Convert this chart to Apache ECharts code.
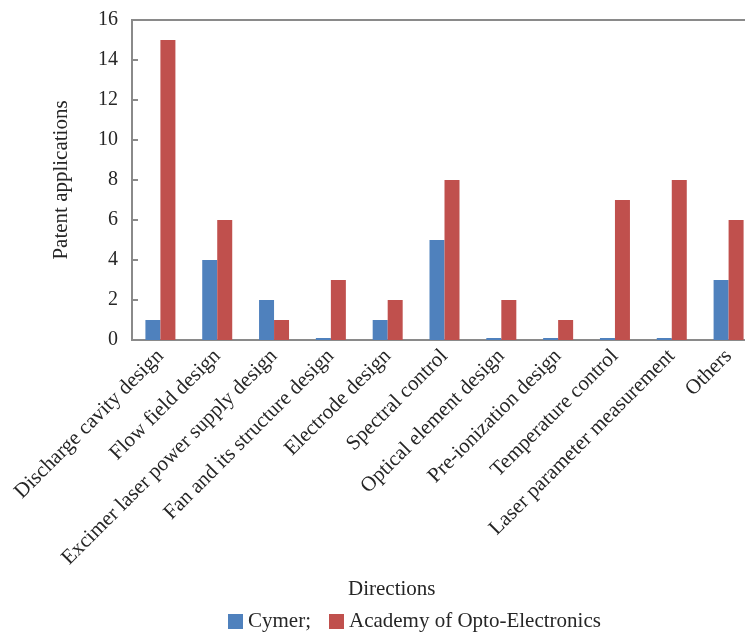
<!DOCTYPE html>
<html>
<head>
<meta charset="utf-8">
<script src="https://cdn.jsdelivr.net/npm/echarts@6/dist/echarts.min.js"></script>
<style>
  html, body { margin: 0; padding: 0; background: #ffffff; }
  #chart { width: 745px; height: 632px; }
</style>
</head>
<body>
<div id="chart"></div>
<script>
// Patent application counts by research direction
const categories = [
  'Discharge cavity design',
  'Flow field design',
  'Excimer laser power supply design',
  'Fan and its structure design',
  'Electrode design',
  'Spectral control',
  'Optical element design',
  'Pre-ionization design',
  'Temperature control',
  'Laser parameter measurement',
  'Others'
];
const cymer = [1, 4, 2, 0.1, 1, 5, 0.1, 0.1, 0.1, 0.1, 3];
const academy = [15, 6, 1, 3, 2, 8, 2, 1, 7, 8, 6];
const yTicks = { min: 0, max: 16, interval: 2 };

const serif = '"Liberation Serif", "DejaVu Serif", serif';
const textColor = '#262626';
const axisColor = '#8a8a8a';

const chart = echarts.init(document.getElementById('chart'), null, { renderer: 'canvas' });
chart.setOption({
  animation: false,
  backgroundColor: '#ffffff',
  color: ['#4F81BD', '#C0504D'],
  title: {
    text: 'Directions',
    left: 343, top: 574,
    textStyle: { fontFamily: serif, fontSize: 21, fontWeight: 'normal', color: textColor }
  },
  grid: {
    left: 132, width: 625, top: 20, height: 320,
    outerBoundsMode: 'none',
    show: true, borderColor: axisColor, borderWidth: 2, backgroundColor: 'transparent'
  },
  legend: {
    left: 223, top: 606,
    itemWidth: 15, itemHeight: 15, itemGap: 18,
    icon: 'rect',
    textStyle: { fontFamily: serif, fontSize: 21, color: textColor },
    data: [
      { name: 'Cymer;' },
      { name: 'Academy of Opto-Electronics' }
    ]
  },
  xAxis: {
    type: 'category',
    data: categories,
    axisLine: { lineStyle: { color: axisColor, width: 2 } },
    axisTick: { inside: true, length: 5, lineStyle: { color: axisColor, width: 2 } },
    axisLabel: {
      rotate: 45, interval: 0, margin: 13,
      fontFamily: serif, fontSize: 21, color: textColor
    }
  },
  yAxis: {
    type: 'value',
    min: yTicks.min, max: yTicks.max, interval: yTicks.interval,
    name: 'Patent applications',
    nameLocation: 'middle',
    nameGap: 60,
    nameTextStyle: { fontFamily: serif, fontSize: 21, color: textColor },
    axisLine: { show: true, lineStyle: { color: axisColor, width: 2 } },
    axisTick: { show: true, inside: true, length: 6, lineStyle: { color: axisColor, width: 2 } },
    splitLine: { show: false },
    axisLabel: { margin: 14, fontFamily: serif, fontSize: 20, color: textColor }
  },
  series: [
    { name: 'Cymer;', type: 'bar', data: cymer, barWidth: 15, barGap: '0%' },
    { name: 'Academy of Opto-Electronics', type: 'bar', data: academy, barWidth: 15, barGap: '0%' }
  ]
});
</script>
</body>
</html>
